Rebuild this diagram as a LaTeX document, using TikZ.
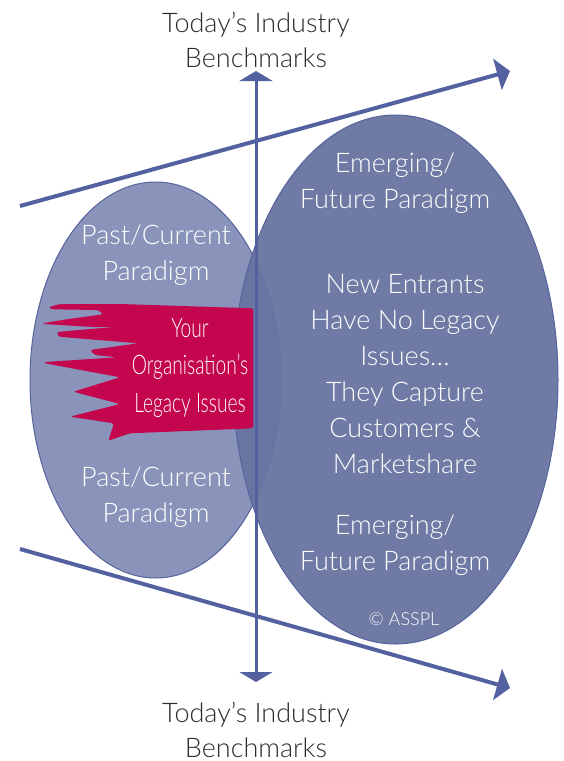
\documentclass[tikz,border=0pt]{standalone}
\usepackage{fontspec}
\setmainfont{Lato}[UprightFont=* Light]
\newfontfamily\condfont{Lato}[UprightFont=* Light, FakeStretch=0.71]
\usetikzlibrary{arrows.meta}
\definecolor{arrowblue}{HTML}{5461A0}
\definecolor{leftfill}{HTML}{8A93B9}
\definecolor{rightfill}{HTML}{6773A0}
\definecolor{rim}{HTML}{56639D}
\definecolor{flagred}{HTML}{C4064F}
\definecolor{darktext}{HTML}{2B2B2B}
\tikzset{
  outlabel/.style={font=\fontsize{27}{35}\selectfont, text=darktext, align=center, inner sep=0pt, anchor=base},
  inlabel/.style={font=\fontsize{27}{36}\selectfont, text=white, align=center, inner sep=0pt, anchor=base},
  flaglabel/.style={font=\condfont\fontsize{27}{37.5}\selectfont, text=white, align=center, inner sep=0pt, anchor=base},
  diagarrow/.style={draw=arrowblue, line width=4pt, -{Triangle[length=13pt,width=32pt]}},
  vertarrow/.style={draw=arrowblue, line width=3pt, {Triangle[length=10pt,width=33pt]}-{Triangle[length=10pt,width=33pt]}},
}
\begin{document}
\begin{tikzpicture}[x=1pt,y=-1pt]
\useasboundingbox (0,0) rectangle (563,761);
% ellipses
\fill[leftfill] (155.5,380) ellipse[x radius=125.5, y radius=198];
\draw[rim, line width=1pt] (155.5,380) ellipse[x radius=125.5, y radius=198];
\fill[rightfill, fill opacity=0.95] (395.5,379.5) ellipse[x radius=162.5, y radius=264.5];
\draw[rim, line width=1pt] (395.5,379.5) ellipse[x radius=162.5, y radius=264.5];
% flag
\fill[flagred, rounded corners=2.5pt] (253.3,308.3) -- (120,304) -- (60,304) -- (48.3,307.3) -- (51.7,309.3) -- (98.3,310) -- (103.3,314.3) -- (66.7,319.3) -- (44,323) -- (44,324) -- (86.7,326.7) -- (113.3,327) -- (56.7,332) -- (58.3,336.7) -- (138.3,343.3) -- (90,350) -- (95,355) -- (116.7,357.3) -- (45,362) -- (45,363.3) -- (120,377.3) -- (73.3,391.7) -- (120,404) -- (70,416.7) -- (103.3,421.7) -- (114,423.3) -- (108.3,440.7) -- (130,433.3) -- (253.3,428.3) -- cycle;
% coordinates
\coordinate (ulstart) at (20,206);
\coordinate (ulend) at (510,71);
\coordinate (llstart) at (20,549);
\coordinate (llend) at (510,688);
\coordinate (vtop) at (256,71);
\coordinate (vbot) at (256,682);
\draw[diagarrow] (ulstart) -- (ulend);
\draw[diagarrow] (llstart) -- (llend);
\draw[vertarrow] (vbot) -- (vtop);
% texts (anchor = baseline of last line)
\node[outlabel] (toplabel) at (256,67) {Today’s Industry\\Benchmarks};
\node[outlabel] (botlabel) at (256,757) {Today’s Industry\\Benchmarks};
\node[inlabel] (pastup) at (156,280) {Past/Current\\Paradigm};
\node[inlabel] (pastdown) at (156,522) {Past/Current\\Paradigm};
\node[flaglabel] (legacy) at (190,412) {Your\\Organisation’s\\Legacy Issues};
\node[inlabel] (emergeup) at (395,208) {Emerging/\\Future Paradigm};
\node[inlabel] (entrants) at (405,473) {New Entrants\\Have No Legacy\\Issues…\\They Capture\\Customers \&\\Marketshare};
\node[inlabel] (emergedown) at (395,570) {Emerging/\\Future Paradigm};
\node[font=\fontsize{18}{20}\selectfont, text=white, inner sep=0pt, anchor=base] (copy) at (404,625) {© ASSPL};
\end{tikzpicture}
\end{document}
